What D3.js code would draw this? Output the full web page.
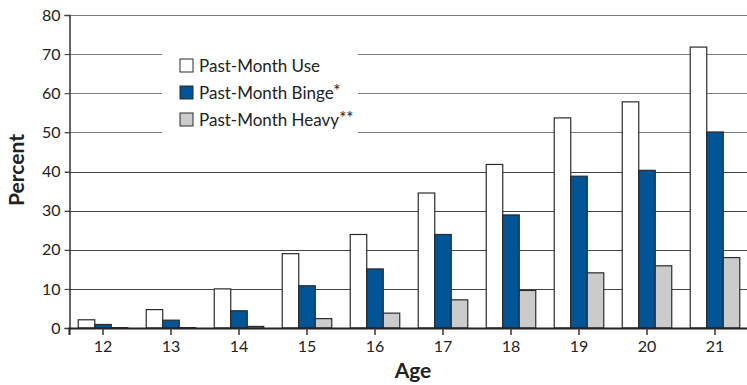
<!DOCTYPE html>
<html>
<head>
<meta charset="utf-8">
<script src="https://cdn.jsdelivr.net/npm/d3@7"></script>
<style>
  body { margin: 0; background: #fff; }
  svg { display: block; font-family: Lato, "Open Sans", sans-serif; }
</style>
</head>
<body>
<div id="chart"></div>
<script>
// data
const ages = ['12', '13', '14', '15', '16', '17', '18', '19', '20', '21'];
const seriesNames = ['Past-Month Use', 'Past-Month Binge', 'Past-Month Heavy'];
const seriesMarks = ['', '*', '**'];
const useValues = [2.1, 4.7, 10.0, 19.0, 23.9, 34.5, 41.8, 53.7, 57.8, 71.8];
const bingeValues = [0.9, 2.0, 4.4, 10.8, 15.1, 23.9, 28.9, 38.8, 40.3, 50.1];
const heavyValues = [0.1, 0.1, 0.4, 2.4, 3.8, 7.2, 9.6, 14.1, 15.9, 18.0];
const yTicks = [0, 10, 20, 30, 40, 50, 60, 70, 80];

const colors = ['#ffffff', '#015596', '#cbcbcb'];

const width = 747, height = 385;
const margin = { top: 15, right: -2, bottom: 57, left: 69 };

const svg = d3.select('#chart').append('svg')
    .attr('width', width)
    .attr('height', height);

// build rows from the named arrays
const rows = ages.map((age, i) => ({
    age: age,
    values: [useValues[i], bingeValues[i], heavyValues[i]]
}));

const x = d3.scaleBand(ages, [margin.left, width - margin.right]);
const xSub = d3.scaleBand(d3.range(3), [0, x.bandwidth()]).paddingOuter(0.56);
const y = d3.scaleLinear([0, 80], [height - margin.bottom, margin.top]);

// gridlines + left ticks
svg.append('g')
    .selectAll('line')
    .data(yTicks.filter(d => d > 0))
    .join('line')
    .attr('x1', margin.left - 4)
    .attr('x2', width)
    .attr('y1', d => Math.round(y(d)) + 0.5)
    .attr('y2', d => Math.round(y(d)) + 0.5)
    .attr('stroke', d => d >= 50 ? '#7a7a7a' : '#444')
    .attr('stroke-width', 1.2);

// white box behind the legend hides the gridlines
svg.append('rect')
    .attr('x', 162).attr('y', 44)
    .attr('width', 196).attr('height', 100)
    .attr('fill', '#fff');

// bars
svg.append('g')
    .selectAll('g')
    .data(rows)
    .join('g')
    .attr('transform', d => `translate(${x(d.age)},0)`)
    .selectAll('rect')
    .data(d => d.values)
    .join('rect')
    .attr('x', (d, i) => xSub(i))
    .attr('y', d => y(d))
    .attr('width', xSub.bandwidth())
    .attr('height', d => y(0) - y(d))
    .attr('fill', (d, i) => colors[i])
    .attr('stroke', '#2b2b2b')
    .attr('stroke-width', 1.2);

// y axis
const axisY = svg.append('g')
    .attr('transform', `translate(${margin.left + 0.5},0)`)
    .call(d3.axisLeft(y).tickValues(yTicks).tickSize(5).tickPadding(4));
axisY.select('.domain').attr('stroke', '#333').attr('stroke-width', 1.5);
axisY.selectAll('.tick line').attr('stroke', '#444');
axisY.selectAll('text')
    .attr('font-size', 16)
    .attr('fill', '#222')
    .attr('font-family', 'Lato, sans-serif');

// x axis
const axisX = svg.append('g')
    .attr('transform', `translate(0,${y(0)})`)
    .call(d3.axisBottom(x).tickSizeOuter(0).tickSize(7).tickPadding(6));
axisX.select('.domain').attr('stroke', '#222').attr('stroke-width', 2);
axisX.selectAll('.tick line').attr('stroke', '#333').attr('stroke-width', 1.5);
axisX.selectAll('text')
    .attr('font-size', 16)
    .attr('fill', '#222')
    .attr('font-family', 'Lato, sans-serif');

// axis titles
svg.append('text')
    .attr('x', 413).attr('y', 378)
    .attr('text-anchor', 'middle')
    .attr('font-size', 21)
    .attr('font-weight', 'bold')
    .attr('fill', '#222')
    .text('Age');

svg.append('text')
    .attr('transform', 'translate(24,170)rotate(-90)')
    .attr('text-anchor', 'middle')
    .attr('font-size', 21)
    .attr('font-weight', 'bold')
    .attr('fill', '#222')
    .text('Percent');

// legend
const legend = svg.append('g')
    .selectAll('g')
    .data(seriesNames)
    .join('g')
    .attr('transform', (d, i) => `translate(180,${59 + i * 27})`);

legend.append('rect')
    .attr('width', 13).attr('height', 13)
    .attr('fill', (d, i) => colors[i])
    .attr('stroke', '#2b2b2b')
    .attr('stroke-width', 1);

const legendText = legend.append('text')
    .attr('x', 19).attr('y', 12.5)
    .attr('font-size', 17)
    .attr('fill', '#222')
    .text(d => d);
legendText.append('tspan')
    .attr('dy', -2)
    .attr('font-size', 17)
    .text((d, i) => seriesMarks[i]);
</script>
</body>
</html>
